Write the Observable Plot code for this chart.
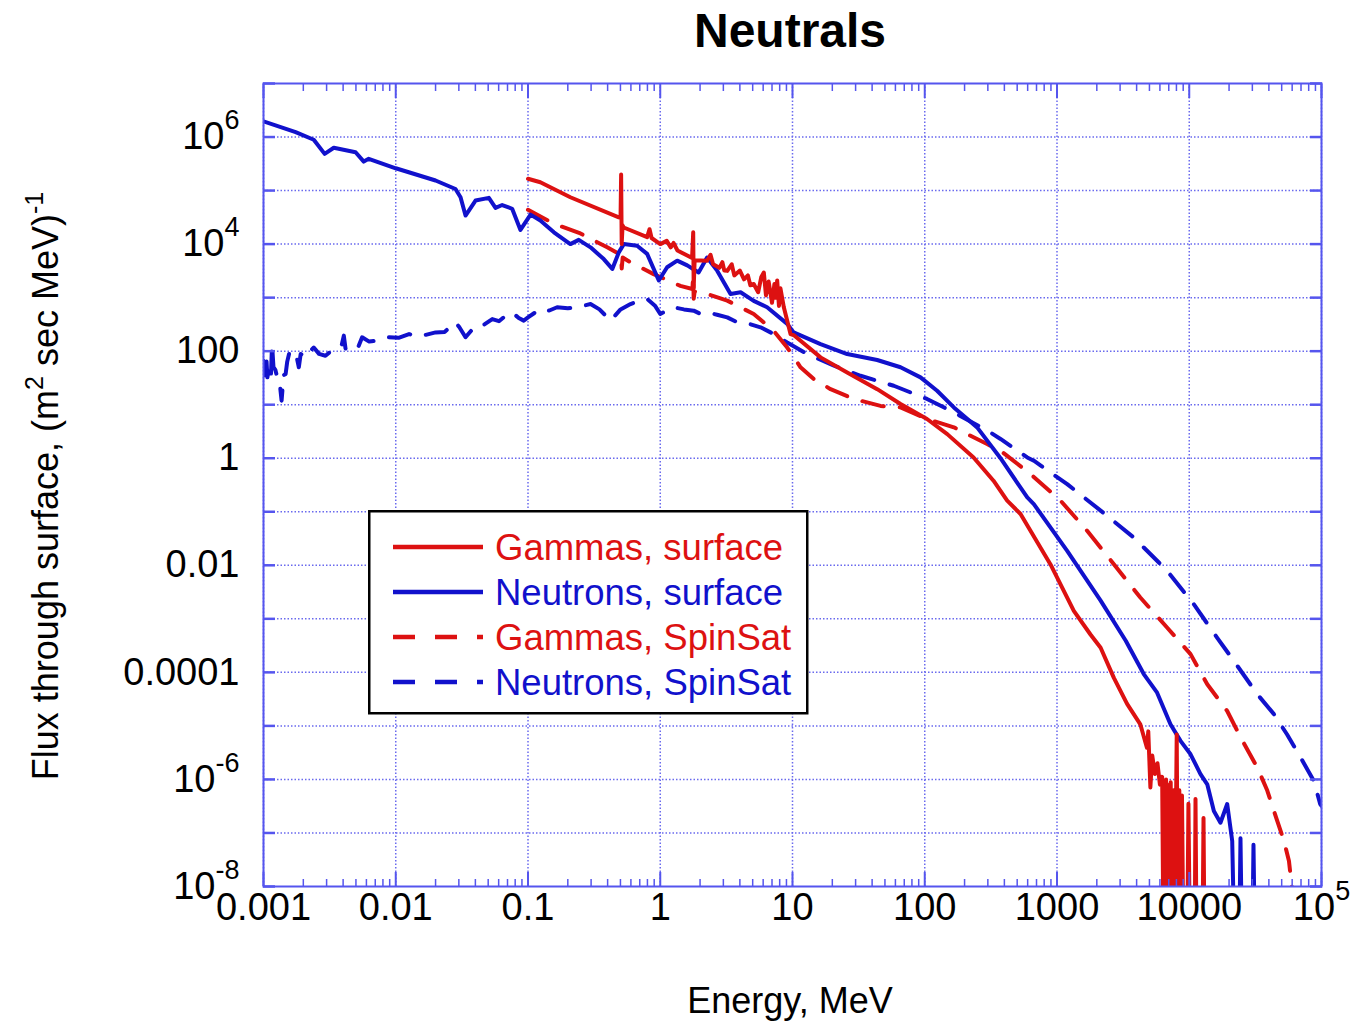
<!DOCTYPE html>
<html>
<head>
<meta charset="utf-8">
<script src="https://cdn.jsdelivr.net/npm/d3@7"></script>
<script src="https://cdn.jsdelivr.net/npm/@observablehq/plot@0.6"></script>
<style>
html, body { margin: 0; padding: 0; background: #fff; overflow: hidden; }
#wrap { position: relative; width: 1368px; height: 1021px; font-family: "Liberation Sans", Arial, Helvetica, sans-serif; }
#title { position: absolute; left: 790px; top: 3px; transform: translateX(-50%); font-weight: bold; font-size: 48px; color: #000; white-space: nowrap; }
#legend { position: absolute; left: 368px; top: 510px; }
</style>
</head>
<body>
<div id="wrap">
  <div id="chart"></div>
  <div id="title">Neutrals</div>
  <div id="legend"></div>
</div>
<script>
// ---------- Data ----------
// Neutrons, surface
const nsE = [0.001, 0.00175, 0.0024, 0.0029, 0.0034, 0.00497, 0.00573, 0.00625, 0.01, 0.02, 0.0283, 0.0309, 0.0337, 0.0401, 0.0506, 0.0568, 0.0638, 0.0759, 0.0877, 0.1045, 0.124, 0.157, 0.209, 0.242, 0.297, 0.374, 0.434, 0.486, 0.53, 0.668, 0.796, 0.975, 1.127, 1.343, 1.6, 1.95, 2.26, 2.7, 3.4, 4.05, 5.09, 6.43, 9.12, 10.2, 16.3, 25.9, 43.7, 65.6, 92.9, 124, 166, 249, 374, 596, 668, 1194, 2138, 3311, 4529, 5715, 7211, 8590, 10230, 12160, 13680, 15350, 17220, 19360, 21130, 21900, 23900, 24400, 25000, 30000, 30600, 31300];
const nsF = [1.97e6, 1.23e6, 8.9e5, 4.85e5, 6.3e5, 5.2e5, 3.48e5, 3.92e5, 2.61e5, 1.54e5, 1.07e5, 7.5e4, 3.41e4, 6.5e4, 7.3e4, 4.74e4, 5.37e4, 4.57e4, 1.84e4, 3.55e4, 2.75e4, 1.66e4, 1.0e4, 1.2e4, 8.7e3, 5.25e3, 3.44e3, 7.0e3, 1.0e4, 9.3e3, 6.56e3, 2.09e3, 3.7e3, 4.9e3, 4.0e3, 2.95e3, 5.6e3, 3.16e3, 1.17e3, 1.26e3, 870, 660, 324, 224, 135, 88.5, 68.4, 50, 32.4, 18.2, 8.9, 3.77, 1.0, 0.185, 0.139, 0.0186, 2.19e-3, 3.9e-4, 9.3e-5, 4.17e-5, 1.07e-5, 5.25e-6, 2.95e-6, 1.26e-6, 8.1e-7, 2.57e-7, 1.55e-7, 3.47e-7, 7.1e-8, 1e-9, 1e-9, 8e-8, 1e-9, 1e-9, 6e-8, 1e-9];

// Gammas, surface
const gsE = [0.1, 0.124, 0.209, 0.486, 0.501, 0.506, 0.511, 0.519, 0.53, 0.796, 0.83, 0.86, 1.0, 1.12, 1.2, 1.26, 1.35, 1.6, 1.74, 1.775, 1.79, 1.82, 2.26, 2.4, 2.51, 2.8, 2.95, 3.05, 3.21, 3.47, 3.63, 4.0, 4.3, 4.6, 4.8, 5.09, 5.5, 5.8, 6.07, 6.3, 6.6, 7.0, 7.3, 7.45, 7.66, 7.9, 8.1, 8.6, 9.66, 10.2, 16.3, 25.9, 43.7, 65.6, 104, 148, 234, 331, 420, 530, 891, 1340, 1791, 2138, 2692, 3388, 4266, 4786, 4900, 5082, 5250, 5500, 5750, 6000, 6240, 6380, 6460, 6610, 6680, 6840, 6920, 7080, 7240, 7410, 7590, 7760, 8040, 8220, 8410, 8610, 8810, 9020, 9660, 9860, 10100, 11000, 11150, 11350, 12600, 12820, 13030];
const gsF = [1.66e5, 1.43e5, 7.5e4, 3.16e4, 3.1e4, 2.0e5, 1.0e4, 2.24e4, 2.04e4, 1.35e4, 1.9e4, 1.3e4, 1.0e4, 1.15e4, 8.7e3, 1.05e4, 7.6e3, 6.1e3, 5.5e3, 1.66e4, 1.55e3, 5.0e3, 4.9e3, 6.3e3, 4.2e3, 3.6e3, 4.6e3, 3.2e3, 3.16e3, 4.2e3, 2.6e3, 3.2e3, 2.2e3, 2.6e3, 1.7e3, 1.8e3, 1.26e3, 2.4e3, 2.95e3, 1.1e3, 2.0e3, 800, 1.8e3, 1.0e3, 2.09e3, 700, 1.5e3, 660, 209, 200, 76.6, 39.8, 19.5, 10.3, 5.41, 2.82, 1.03, 0.38, 0.161, 0.091, 0.0105, 1.41e-3, 5.1e-4, 2.88e-4, 7.9e-5, 2.57e-5, 1.07e-5, 3.9e-6, 7.9e-6, 7.1e-7, 2.8e-6, 1.26e-6, 2.0e-6, 8e-7, 1.12e-6, 1e-9, 8.9e-7, 1e-9, 1e-6, 1e-9, 7.9e-7, 1e-9, 8.9e-7, 1e-9, 6.3e-7, 1e-9, 6.9e-6, 1e-9, 6.3e-7, 1e-9, 5e-7, 1e-9, 1e-9, 3.5e-7, 1e-9, 1e-9, 4.3e-7, 1e-9, 1e-9, 1.9e-7, 1e-9];

// Gammas, SpinSat
const gdE = [0.1, 0.157, 0.249, 0.397, 0.486, 0.506, 0.511, 0.52, 0.594, 0.891, 1.42, 1.75, 1.775, 1.79, 1.82, 2.26, 3.21, 5.09, 7.21, 9.12, 11.5, 14.5, 19.4, 29.1, 46.3, 65.6, 104, 166, 296, 374, 631, 1064, 1690, 2692, 4266, 6792, 10230, 13680, 19360, 24550, 32730, 38900, 46340, 52000, 56750, 60260];
const gdF = [4.37e4, 2.4e4, 1.58e4, 8.7e3, 6.6e3, 6.4e3, 3.5e3, 5.6e3, 4.6e3, 2.75e3, 1.66e3, 1.45e3, 2.6e3, 950, 1.3e3, 1.17e3, 880, 495, 240, 117, 50, 30, 19.5, 12.8, 9.5, 8.9, 5.4, 3.78, 1.84, 1.38, 0.506, 0.161, 0.0442, 0.0105, 2.5e-3, 6.9e-4, 2.19e-4, 6.0e-5, 1.9e-5, 6.0e-6, 1.66e-6, 6.2e-7, 1.66e-7, 7.1e-8, 3.0e-8, 7.9e-9];

// Neutrons, SpinSat
const ndE = [0.001, 0.00102, 0.00105, 0.00107, 0.00111, 0.00114, 0.00116, 0.00119, 0.00123, 0.00127, 0.00132, 0.00137, 0.00142, 0.00147, 0.00151, 0.00156, 0.00166, 0.00176, 0.00185, 0.00191, 0.00209, 0.00224, 0.0024, 0.00263, 0.00294, 0.00324, 0.0035, 0.00389, 0.00405, 0.00417, 0.00497, 0.00525, 0.00557, 0.0063, 0.00703, 0.00794, 0.00885, 0.0105, 0.0126, 0.0141, 0.0166, 0.02, 0.0234, 0.0283, 0.0302, 0.0337, 0.0401, 0.0468, 0.0537, 0.0603, 0.0692, 0.0759, 0.0851, 0.0929, 0.1, 0.124, 0.145, 0.166, 0.2, 0.236, 0.297, 0.347, 0.421, 0.501, 0.596, 0.708, 0.796, 0.912, 1.0, 1.12, 1.26, 1.51, 1.79, 2.0, 2.26, 2.69, 3.21, 3.82, 4.57, 5.73, 7.21, 9.12, 12.9, 20.6, 32.7, 58.3, 104, 166, 296, 374, 596, 668, 1194, 2138, 3802, 6792, 10810, 16220, 21730, 32730, 43650, 54950, 69500, 87700, 97700, 100000];
const ndF = [66, 35.5, 79, 32.4, 56, 38, 136, 50, 44.7, 32.4, 28.2, 11.9, 35.5, 37.5, 63, 88.5, 76, 89, 50, 88.5, 76, 100, 117, 89, 82, 100, 117, 126, 195, 112, 102, 126, 182, 151, 157, 178, 182, 178, 209, 190, 200, 224, 229, 347, 282, 182, 300, 316, 398, 363, 479, 531, 417, 372, 427, 617, 575, 661, 631, 661, 759, 603, 372, 603, 759, 891, 946, 708, 495, 575, 661, 603, 571, 501, 531, 479, 427, 347, 331, 279, 209, 145, 88.5, 53.7, 34.7, 22.6, 12.8, 7.18, 3.31, 2.29, 1.035, 0.898, 0.329, 0.105, 0.0331, 7.94e-3, 1.88e-3, 4.47e-4, 1.64e-4, 3.89e-5, 1.66e-5, 6.9e-6, 2.57e-6, 9.3e-7, 3.47e-7, 3.2e-7];

// Axis ticks and labels
const xTicks = [0.001, 0.01, 0.1, 1, 10, 100, 1000, 10000, 100000];
const xTickLabels = ["0.001", "0.01", "0.1", "1", "10", "100", "1000", "10000", "10^5"];
const yTicks = [1e6, 1e4, 100, 1, 0.01, 1e-4, 1e-6, 1e-8];
const yTickLabels = ["10^6", "10^4", "100", "1", "0.01", "0.0001", "10^-6", "10^-8"];
const yGrid = [1e-7, 1e-6, 1e-5, 1e-4, 1e-3, 1e-2, 1e-1, 1, 10, 100, 1e3, 1e4, 1e5, 1e6];
const yFrameTicks = [1e-8, 1e-7, 1e-6, 1e-5, 1e-4, 1e-3, 1e-2, 1e-1, 1, 10, 100, 1e3, 1e4, 1e5, 1e6, 1e7];
const xMinor = [];
for (const d of [1e-3, 1e-2, 1e-1, 1, 10, 100, 1e3, 1e4]) for (let k = 2; k <= 9; k++) xMinor.push(d * k);

const series = [
  {name: "Gammas, surface", color: "#dd1111", dash: null},
  {name: "Neutrons, surface", color: "#1111cc", dash: null},
  {name: "Gammas, SpinSat", color: "#dd1111", dash: "22,16"},
  {name: "Neutrons, SpinSat", color: "#1111cc", dash: "22,16"}
];

const rows = (E, F) => E.map((e, i) => ({E: e, F: F[i]}));
const FONT = '"Liberation Sans", Arial, Helvetica, sans-serif';
const GRID = "#6a6aee";
const FRAME = "#5555ee";
const LW = 4;

const lineOpts = (s) => ({x: "E", y: "F", stroke: s.color, strokeWidth: LW, strokeDasharray: s.dash, clip: true, curve: "linear", strokeLinejoin: "round"});

const chart = Plot.plot({
  width: 1368,
  height: 1021,
  marginLeft: 263,
  marginRight: 47,
  marginTop: 83,
  marginBottom: 135,
  x: {type: "log", domain: [1e-3, 1e5]},
  y: {type: "log", domain: [1e-8, 1e7]},
  style: {fontFamily: FONT, fontSize: "38px", color: "#000", background: "#fff", overflow: "visible"},
  marks: [
    Plot.gridX(xTicks, {stroke: GRID, strokeOpacity: 1, strokeWidth: 1.5, strokeDasharray: "1.5,2"}),
    Plot.gridY(yGrid, {stroke: GRID, strokeOpacity: 1, strokeWidth: 1.5, strokeDasharray: "1.5,2"}),
    Plot.line(rows(ndE, ndF), lineOpts(series[3])),
    Plot.line(rows(gdE, gdF), lineOpts(series[2])),
    Plot.line(rows(nsE, nsF), lineOpts(series[1])),
    Plot.line(rows(gsE, gsF), lineOpts(series[0])),
    Plot.axisX(xMinor, {anchor: "bottom", tickSize: -7, fill: "none", stroke: FRAME, strokeWidth: 1.5, label: null}),
    Plot.axisX(xMinor, {anchor: "top", tickSize: -7, fill: "none", stroke: FRAME, strokeWidth: 1.5, label: null}),
    Plot.axisX(xTicks, {anchor: "bottom", tickSize: -14, fill: "none", stroke: FRAME, strokeWidth: 2, label: null}),
    Plot.axisX(xTicks, {anchor: "top", tickSize: -14, fill: "none", stroke: FRAME, strokeWidth: 2, label: null}),
    Plot.axisY(yFrameTicks, {anchor: "left", tickSize: -12, fill: "none", stroke: FRAME, strokeWidth: 2.5, label: null}),
    Plot.axisY(yFrameTicks, {anchor: "right", tickSize: -12, fill: "none", stroke: FRAME, strokeWidth: 2.5, label: null}),
    Plot.axisX(xTicks, {anchor: "bottom", tickSize: 0, tickPadding: 7, fill: "#000", stroke: "none",
      tickFormat: d => xTickLabels[xTicks.indexOf(d)], label: null}),
    Plot.axisY(yTicks, {anchor: "left", tickSize: 0, tickPadding: 24, fill: "#000", stroke: "none",
      tickFormat: d => yTickLabels[yTicks.indexOf(d)], label: null}),
    Plot.frame({stroke: FRAME, strokeWidth: 2})
  ]
});

document.getElementById("chart").appendChild(chart);

const svg = d3.select(chart);
// make sure the curve stroke width is applied
svg.selectAll('g[aria-label="line"]').attr("stroke-width", LW)
  .selectAll("path").attr("stroke-width", LW);

// superscripts for tick labels such as 10^6
svg.selectAll("text").each(function() {
  const m = /^10\^(-?\d+)$/.exec(this.textContent);
  if (m) {
    const t = d3.select(this);
    t.text("10");
    t.append("tspan").attr("dy", -20).attr("font-size", 27).text(m[1]);
  }
});

// axis titles
svg.append("text")
  .attr("x", 790).attr("y", 1013)
  .attr("text-anchor", "middle").attr("font-size", 36).attr("fill", "#000")
  .text("Energy, MeV");

const yl = svg.append("text")
  .attr("transform", "translate(58,486) rotate(-90)")
  .attr("text-anchor", "middle").attr("font-size", 36).attr("fill", "#000");
yl.append("tspan").text("Flux through surface, (m");
yl.append("tspan").attr("dy", -15).attr("font-size", 25).text("2");
yl.append("tspan").attr("dy", 15).text(" sec MeV)");
yl.append("tspan").attr("dy", -15).attr("font-size", 25).text("-1");

// legend (inside the plot area)
const lg = d3.select("#legend").append("svg")
  .attr("width", 442).attr("height", 206)
  .style("font-family", FONT);
lg.append("rect").attr("x", 1.25).attr("y", 1.25).attr("width", 438).attr("height", 202)
  .attr("fill", "#fff").attr("stroke", "#000").attr("stroke-width", 2.5);
series.forEach((s, i) => {
  const y = 37 + i * 45;
  lg.append("line").attr("x1", 25).attr("x2", 115).attr("y1", y).attr("y2", y)
    .attr("stroke", s.color).attr("stroke-width", 4.5)
    .attr("stroke-dasharray", s.dash ? "22,20" : null);
  lg.append("text").attr("x", 127).attr("y", y + 13)
    .attr("font-size", 36.5).attr("fill", s.color).text(s.name);
});
</script>
</body>
</html>
